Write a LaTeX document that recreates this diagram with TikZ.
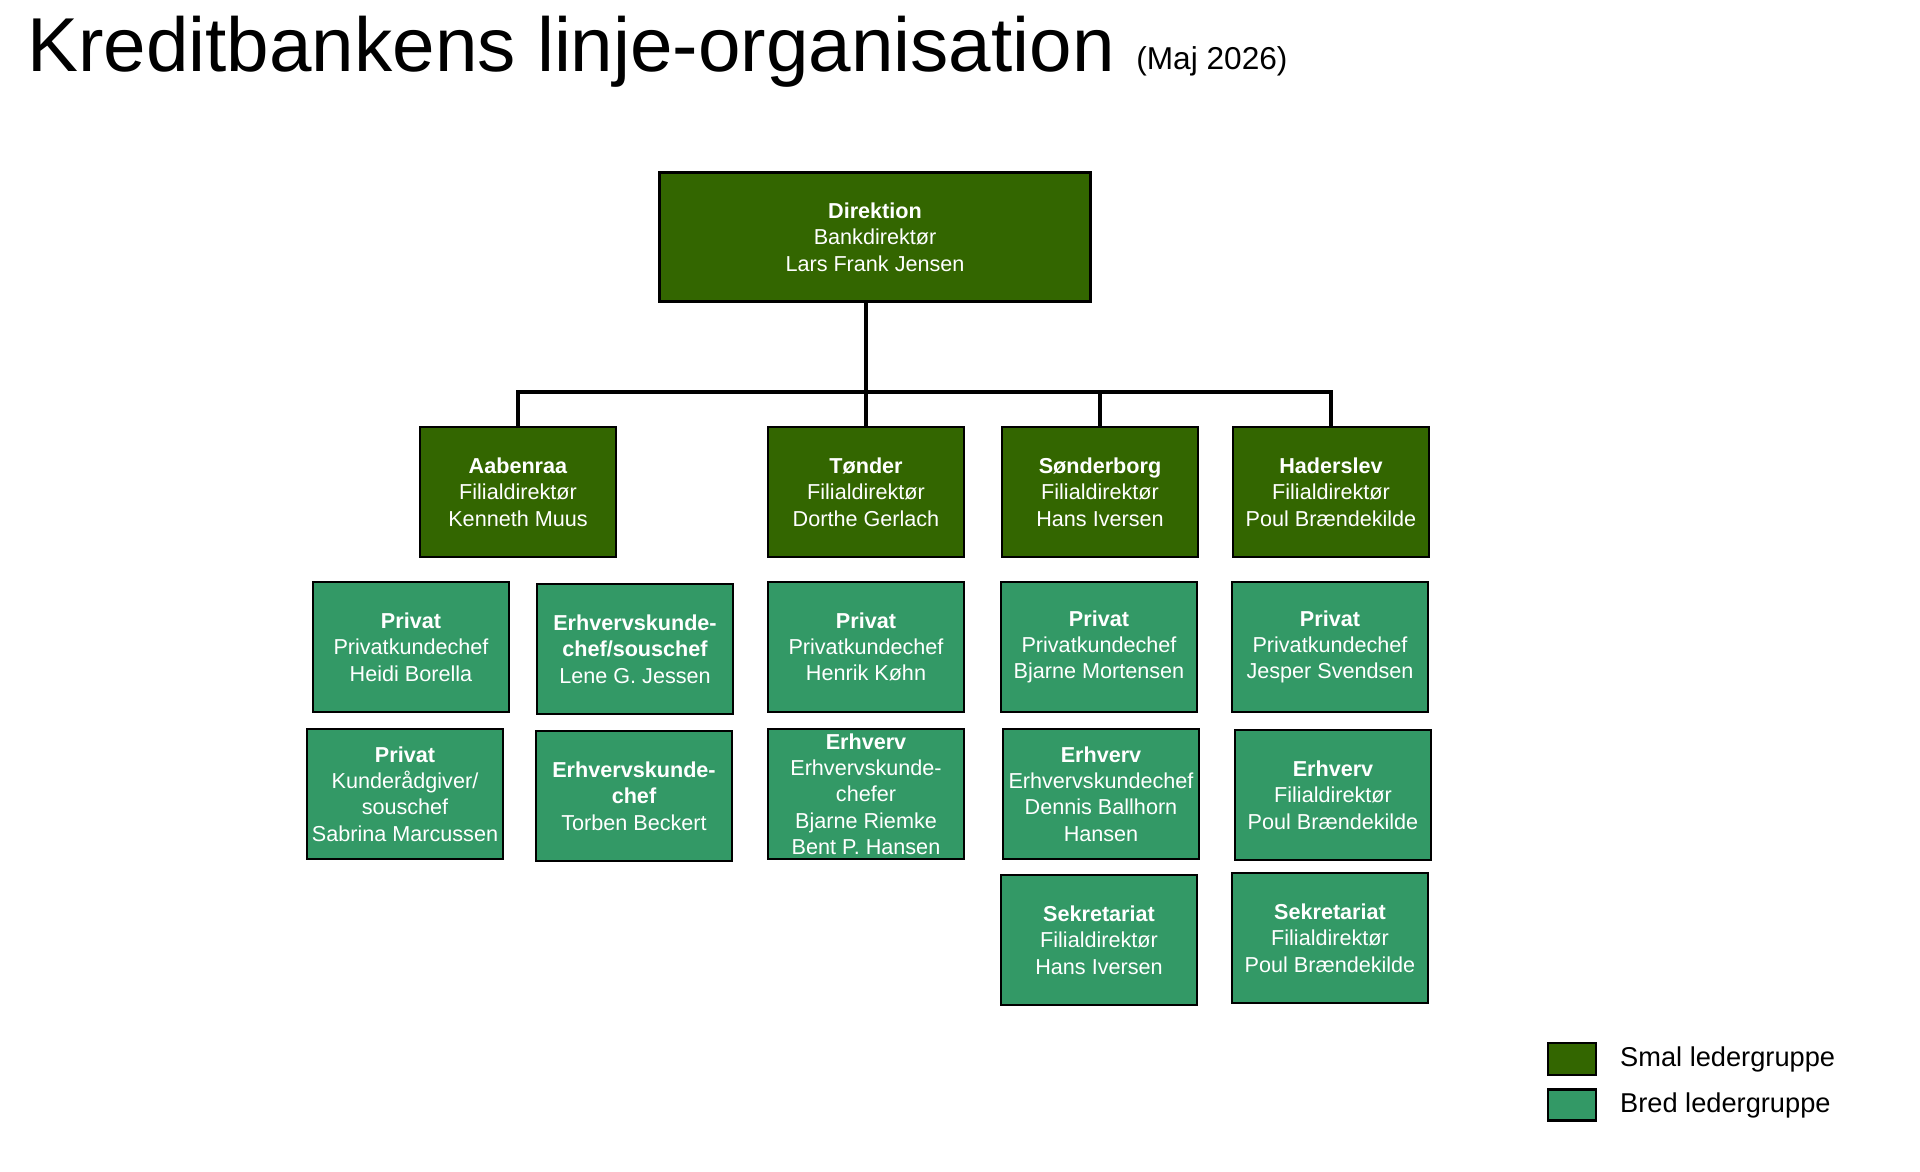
\documentclass[tikz,border=0pt]{standalone}
\usepackage{fontspec}
\setmainfont{Liberation Sans}
\usetikzlibrary{positioning}
\definecolor{smalgroen}{RGB}{51,102,0}
\definecolor{bredgroen}{RGB}{51,153,102}
\begin{document}
\begin{tikzpicture}[x=0.02cm, y=-0.02cm,
  boks/.style={draw=black, line width=1.5pt, text=white, align=center,
    minimum width=3.92cm, minimum height=2.6cm, inner xsep=1pt, inner ysep=0pt,
    font=\fontsize{12.3}{15}\selectfont},
  smal/.style={boks, fill=smalgroen},
  bred/.style={boks, fill=bredgroen},
  linje/.style={line width=2pt}]
  \useasboundingbox (0,0) rectangle (1920,1171);

  % Titel
  \node[anchor=base west, inner sep=0, font=\fontsize{43.5}{50}\selectfont] (titel) at (27,71) {Kreditbankens linje-organisation};
  \node[anchor=base west, inner sep=0, font=\fontsize{18}{22}\selectfont] (dato) at (1136,69) {(Maj 2026)};

  % Direktion
  \node[smal, minimum width=8.62cm, minimum height=2.58cm] (dir) at (875,237) {\textbf{Direktion}\\Bankdirektør\\Lars Frank Jensen};

  % Filialer
  \node[smal] (aab) at (518,492) {\textbf{Aabenraa}\\Filialdirektør\\Kenneth Muus};
  \node[smal] (ton) at (866,492) {\textbf{Tønder}\\Filialdirektør\\Dorthe Gerlach};
  \node[smal] (son) at (1100,492) {\textbf{Sønderborg}\\Filialdirektør\\Hans Iversen};
  \node[smal] (had) at (1331,492) {\textbf{Haderslev}\\Filialdirektør\\Poul Brændekilde};

  % Forbindelser
  \coordinate (bus) at (0,392);
  \draw[linje] (dir.south -| ton.north) -- (ton.north);
  \draw[linje] (aab.north) |- (bus -| had.north) -- (had.north);
  \draw[linje] (son.north) -- (son.north |- bus);

  % Aabenraa
  \node[bred] (aabpriv) at (411,647) {\textbf{Privat}\\Privatkundechef\\Heidi Borella};
  \node[bred] (aaberh) at (635,649) {\textbf{Erhvervskunde-}\\\textbf{chef/souschef}\\Lene G. Jessen};
  \node[bred] (aabraad) at (405,794) {\textbf{Privat}\\Kunderådgiver/\\souschef\\Sabrina Marcussen};
  \node[bred] (aabchef) at (634,796) {\textbf{Erhvervskunde-}\\\textbf{chef}\\Torben Beckert};

  % Tønder
  \node[bred] (tonpriv) at (866,647) {\textbf{Privat}\\Privatkundechef\\Henrik Køhn};
  \node[bred] (tonerh) at (866,794) {\textbf{Erhverv}\\Erhvervskunde-\\chefer\\Bjarne Riemke\\Bent P. Hansen};

  % Sønderborg
  \node[bred] (sonpriv) at (1099,647) {\textbf{Privat}\\Privatkundechef\\Bjarne Mortensen};
  \node[bred] (sonerh) at (1101,794) {\textbf{Erhverv}\\Erhvervskundechef\\Dennis Ballhorn\\Hansen};
  \node[bred] (sonsek) at (1099,940) {\textbf{Sekretariat}\\Filialdirektør\\Hans Iversen};

  % Haderslev
  \node[bred] (hadpriv) at (1330,647) {\textbf{Privat}\\Privatkundechef\\Jesper Svendsen};
  \node[bred] (haderh) at (1333,795) {\textbf{Erhverv}\\Filialdirektør\\Poul Brændekilde};
  \node[bred] (hadsek) at (1330,938) {\textbf{Sekretariat}\\Filialdirektør\\Poul Brændekilde};

  % Forklaring
  \node[smal, minimum width=0.96cm, minimum height=0.64cm] (legsmal) at (1572,1059) {};
  \node[bred, minimum width=0.96cm, minimum height=0.62cm] (legbred) at (1572,1105) {};
  \node[right=0.45cm of legsmal, inner sep=0, font=\fontsize{15.5}{18}\selectfont] (txtsmal) {Smal ledergruppe};
  \node[right=0.45cm of legbred, inner sep=0, font=\fontsize{15.5}{18}\selectfont] (txtbred) {Bred ledergruppe};
\end{tikzpicture}
\end{document}
